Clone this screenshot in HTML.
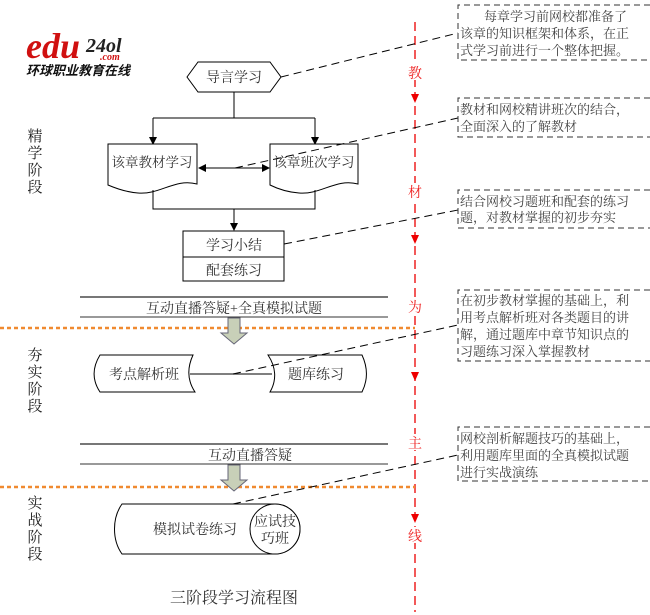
<!DOCTYPE html>
<html><head><meta charset="utf-8"><style>
html,body{margin:0;padding:0;background:#fff;}
svg{display:block;font-family:"Liberation Serif","Noto Serif CJK SC","Noto Sans CJK SC",serif;}
</style></head><body>
<svg width="650" height="615" viewBox="0 0 650 615" xmlns="http://www.w3.org/2000/svg">
<defs>
<marker id="ab" markerWidth="8" markerHeight="8" refX="7" refY="4" orient="auto-start-reverse" markerUnits="userSpaceOnUse"><path d="M0,0 L8,4 L0,8 z" fill="#000"/></marker>
</defs>

<!-- logo -->
<text x="26" y="58" font-family="Liberation Serif,serif" font-style="italic" font-weight="bold" font-size="36" fill="#d01010">edu</text>
<text x="86" y="52" font-family="Liberation Serif,serif" font-style="italic" font-weight="bold" font-size="20" fill="#222">24ol</text>
<text x="100" y="60" font-family="Liberation Serif,serif" font-style="italic" font-weight="bold" font-size="10" fill="#d01010">.com</text>
<text x="26" y="75" font-family="Liberation Sans,'Noto Sans CJK SC',sans-serif" font-weight="bold" font-style="italic" font-size="13" fill="#111">环球职业教育在线</text>

<!-- stage labels -->
<g font-size="15" fill="#222" text-anchor="middle">
<text x="35" y="141">精</text><text x="35" y="158">学</text><text x="35" y="175">阶</text><text x="35" y="192">段</text>
<text x="35" y="360">夯</text><text x="35" y="377">实</text><text x="35" y="394">阶</text><text x="35" y="411">段</text>
<text x="35" y="508">实</text><text x="35" y="525">战</text><text x="35" y="542">阶</text><text x="35" y="559">段</text>
</g>

<!-- red main line -->
<line x1="415" y1="22" x2="415" y2="612" stroke="#e22" stroke-width="1.5" stroke-dasharray="9,5"/>
<g fill="#e00"><path d="M411,94 L419,94 L415,103z"/><path d="M411,235 L419,235 L415,244z"/><path d="M411,372 L419,372 L415,381z"/><path d="M411,514 L419,514 L415,523z"/></g>
<g font-size="14" fill="#e22" text-anchor="middle">
<rect x="406" y="64" width="18" height="16" fill="#fff"/><text x="415" y="78">教</text>
<rect x="406" y="183" width="18" height="16" fill="#fff"/><text x="415" y="197">材</text>
<rect x="406" y="298" width="18" height="16" fill="#fff"/><text x="415" y="312">为</text>
<rect x="406" y="434" width="18" height="16" fill="#fff"/><text x="415" y="448">主</text>
<rect x="406" y="527" width="18" height="16" fill="#fff"/><text x="415" y="541">线</text>
</g>

<!-- orange dotted -->
<line x1="0" y1="328" x2="415" y2="328" stroke="#f08a30" stroke-width="2.5" stroke-dasharray="4,3"/>
<line x1="0" y1="487" x2="415" y2="487" stroke="#f08a30" stroke-width="2.5" stroke-dasharray="4,3"/>

<g stroke="#000" stroke-width="1" fill="none">
<polygon points="187,77 198,62 270,62 281,77 270,92 198,92" fill="#fff"/>
<polyline points="234,92 234,118"/>
<line x1="153" y1="118" x2="315" y2="118"/>
<line x1="153" y1="118" x2="153" y2="144" marker-end="url(#ab)"/>
<line x1="315" y1="118" x2="315" y2="144" marker-end="url(#ab)"/>
<path d="M108,144 H197 V184 C175,178 160,195 138,193 C125,192 115,188 108,185 Z" fill="#fff"/>
<path d="M270,144 H358 V184 C336,178 321,195 299,193 C286,192 276,188 270,185 Z" fill="#fff"/>
<line x1="199" y1="168" x2="269" y2="168" marker-end="url(#ab)" marker-start="url(#ab)"/>
<polyline points="153,190 153,209 315,209 315,190"/>
<line x1="234" y1="209" x2="234" y2="230" marker-end="url(#ab)"/>
<rect x="183" y="231" width="101" height="50" fill="#fff"/>
<line x1="183" y1="257" x2="284" y2="257"/>
</g>
<g font-size="14" fill="#333" text-anchor="middle">
<text x="234" y="82">导言学习</text>
<text x="152" y="167" font-size="13.5">该章教材学习</text>
<text x="314" y="167" font-size="13.5">该章班次学习</text>
<text x="234" y="250">学习小结</text>
<text x="234" y="275">配套练习</text>
</g>

<!-- band 1 -->
<line x1="80" y1="297" x2="388" y2="297" stroke="#777" stroke-width="2"/>
<line x1="80" y1="317" x2="388" y2="317" stroke="#333" stroke-width="1"/>
<text x="234" y="313" font-size="14" fill="#333" text-anchor="middle">互动直播答疑+全真模拟试题</text>
<path d="M228,318 H240 V333 H247 L234,344 L221,333 H228 Z" fill="#c8d0b8" stroke="#667" stroke-width="1"/>

<g stroke="#000" stroke-width="1" fill="#fff">
<path d="M100,355 H193 C187,368 187,380 195,392 H100 C92,380 92,368 100,355 Z"/>
<path d="M268,355 H362 C368,368 368,380 362,392 H270 C277,380 276,367 268,355 Z"/>
</g>
<line x1="190" y1="374" x2="272" y2="374" stroke="#333" stroke-width="1.2"/>
<g font-size="14" fill="#333" text-anchor="middle">
<text x="144" y="379">考点解析班</text>
<text x="316" y="379">题库练习</text>
</g>

<!-- band 2 -->
<line x1="80" y1="444" x2="388" y2="444" stroke="#777" stroke-width="2"/>
<line x1="80" y1="464" x2="388" y2="464" stroke="#333" stroke-width="1"/>
<text x="250" y="460" font-size="14" fill="#333" text-anchor="middle">互动直播答疑</text>
<path d="M228,465 H240 V480 H247 L234,491 L221,480 H228 Z" fill="#c8d0b8" stroke="#667" stroke-width="1"/>

<path d="M122,504 H275 A25,25 0 0 1 275,554 H122 C112,540 112,518 122,504 Z" fill="#fff" stroke="#000"/>
<circle cx="275" cy="529" r="25" fill="#fff" stroke="#000"/>
<text x="195" y="534" font-size="14" fill="#333" text-anchor="middle">模拟试卷练习</text>
<text x="275" y="526" font-size="14" fill="#333" text-anchor="middle">应试技</text>
<text x="275" y="543" font-size="14" fill="#333" text-anchor="middle">巧班</text>

<text x="234" y="603" font-size="16" fill="#333" text-anchor="middle">三阶段学习流程图</text>

<g stroke="#000" stroke-width="1" stroke-dasharray="8,5" fill="none">
<line x1="281" y1="77" x2="458" y2="33"/>
<line x1="235" y1="168" x2="458" y2="118"/>
<line x1="284" y1="244" x2="458" y2="210"/>
<line x1="233" y1="374" x2="458" y2="325"/>
<line x1="233" y1="504" x2="458" y2="455"/>
</g>
<g stroke="#333" stroke-width="1" stroke-dasharray="6,4" fill="none">
<polyline points="650,5 458,5 458,60 650,60"/>
<polyline points="650,98 458,98 458,137 650,137"/>
<polyline points="650,190 458,190 458,228 650,228"/>
<polyline points="650,290 458,290 458,361 650,361"/>
<polyline points="650,427 458,427 458,481 650,481"/>
</g>
<g font-size="13" fill="#444">
<text x="484" y="21">每章学习前网校都准备了</text>
<text x="460" y="38">该章的知识框架和体系，在正</text>
<text x="460" y="55">式学习前进行一个整体把握。</text>
<text x="460" y="114">教材和网校精讲班次的结合，</text>
<text x="460" y="131">全面深入的了解教材</text>
<text x="460" y="206">结合网校习题班和配套的练习</text>
<text x="460" y="222">题，对教材掌握的初步夯实</text>
<text x="460" y="305">在初步教材掌握的基础上，利</text>
<text x="460" y="322">用考点解析班对各类题目的讲</text>
<text x="460" y="339">解，通过题库中章节知识点的</text>
<text x="460" y="356">习题练习深入掌握教材</text>
<text x="460" y="443">网校剖析解题技巧的基础上，</text>
<text x="460" y="460">利用题库里面的全真模拟试题</text>
<text x="460" y="477">进行实战演练</text>
</g>
</svg>
</body></html>
